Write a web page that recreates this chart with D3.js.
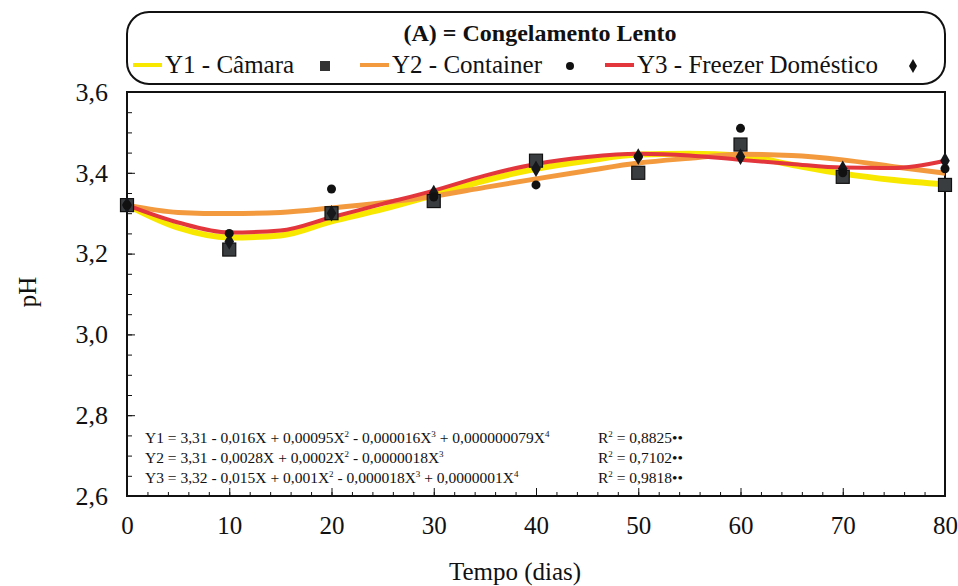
<!DOCTYPE html>
<html>
<head>
<meta charset="utf-8">
<script src="https://d3js.org/d3.v7.min.js"></script>
<style>
  body { margin: 0; background: #fff; }
  svg text { font-family: "Liberation Serif", "DejaVu Serif", serif; }
  .axis text { font-size: 25px; fill: #111; font-family: "Liberation Serif", serif; }
  .axis.y text { font-size: 26px; }
  .axis path, .axis line { stroke: #111; }
</style>
</head>
<body>
<svg id="chart" width="958" height="586"></svg>
<script>
// sampling days
var days = [0, 10, 20, 30, 40, 50, 60, 70, 80];
// observed pH
var camara    = [3.32, 3.21, 3.30, 3.33, 3.43, 3.40, 3.47, 3.39, 3.37];
var container = [3.32, 3.25, 3.36, 3.34, 3.37, 3.44, 3.51, 3.40, 3.41];
var freezer   = [3.32, 3.23, 3.30, 3.35, 3.41, 3.44, 3.44, 3.41, 3.43];

// fitted curves, every 5 days
var fitDays = [0, 5, 10, 15, 20, 25, 30, 35, 40, 45, 50, 55, 60, 65, 70, 75, 80];
var fitY1 = [3.32, 3.264, 3.240, 3.245, 3.280, 3.310, 3.345, 3.381, 3.410, 3.430, 3.445, 3.447, 3.443, 3.420, 3.398, 3.382, 3.371];
var fitY2 = [3.32, 3.302, 3.299, 3.302, 3.313, 3.326, 3.342, 3.364, 3.385, 3.405, 3.424, 3.436, 3.446, 3.443, 3.432, 3.415, 3.399];
var fitY3 = [3.32, 3.277, 3.252, 3.257, 3.290, 3.323, 3.356, 3.393, 3.422, 3.439, 3.447, 3.443, 3.432, 3.422, 3.413, 3.412, 3.430];

var yTicks = [2.6, 2.8, 3.0, 3.2, 3.4, 3.6];
var xTicks = [0, 10, 20, 30, 40, 50, 60, 70, 80];

var equations = [
  {lhs: "Y1 = 3,31 - 0,016X + 0,00095X", parts: [["2", " - 0,000016X"], ["3", " + 0,000000079X"], ["4", ""]], r2: "0,8825"},
  {lhs: "Y2 = 3,31 - 0,0028X + 0,0002X", parts: [["2", " - 0,0000018X"], ["3", ""]], r2: "0,7102"},
  {lhs: "Y3 = 3,32 - 0,015X + 0,001X", parts: [["2", " - 0,000018X"], ["3", " + 0,0000001X"], ["4", ""]], r2: "0,9818"}
];

var svg = d3.select("#chart");
var x = d3.scaleLinear().domain([0, 80]).range([127, 945]);
var y = d3.scaleLinear().domain([2.6, 3.6]).range([496, 92]);
var fmt = d => d3.format(".1f")(d).replace(".", ",");

// minor ticks
svg.append("g").attr("class", "axis")
  .attr("transform", "translate(0,496)")
  .call(d3.axisBottom(x).tickValues(d3.range(0, 81, 2)).tickSize(-4).tickFormat(""))
  .select(".domain").remove();
svg.append("g").attr("class", "axis")
  .attr("transform", "translate(127,0)")
  .call(d3.axisLeft(y).tickValues(d3.range(2.6, 3.601, 0.05)).tickSize(-5).tickFormat(""))
  .select(".domain").remove();

// major ticks + labels
svg.append("g").attr("class", "axis x")
  .attr("transform", "translate(0,496)")
  .call(d3.axisBottom(x).tickValues(xTicks).tickSize(-8).tickPadding(15).tickSizeOuter(0))
  .selectAll("text").attr("dy", "0.9em");
svg.append("g").attr("class", "axis y")
  .attr("transform", "translate(127,0)")
  .call(d3.axisLeft(y).tickValues(yTicks).tickFormat(fmt).tickSize(-8).tickPadding(19).tickSizeOuter(0));

// frame
svg.append("rect")
  .attr("x", x(0)).attr("y", y(3.6))
  .attr("width", x(80) - x(0)).attr("height", y(2.6) - y(3.6))
  .attr("fill", "none").attr("stroke", "#111").attr("stroke-width", 2);

// fitted lines
var line = d3.line().curve(d3.curveMonotoneX).x((d, i) => x(fitDays[i])).y(d => y(d));
var fits = [
  {vals: fitY1, color: "#f8e800", w: 6},
  {vals: fitY2, color: "#f39a3e", w: 5},
  {vals: fitY3, color: "#e2353c", w: 4}
];
svg.append("g").selectAll("path").data(fits).enter().append("path")
  .attr("d", d => line(d.vals))
  .attr("fill", "none")
  .attr("stroke", d => d.color)
  .attr("stroke-width", d => d.w);

// markers
var g = svg.append("g");
g.selectAll(".sq").data(camara).enter().append("rect")
  .attr("x", (d, i) => x(days[i]) - 6.5).attr("y", d => y(d) - 6.5)
  .attr("width", 13).attr("height", 13)
  .attr("fill", "#3a3d40").attr("stroke", "#111").attr("stroke-width", 1.2);
g.selectAll(".dm").data(freezer).enter().append("path")
  .attr("d", d3.symbol(d3.symbolDiamond, 80))
  .attr("transform", (d, i) => `translate(${x(days[i])},${y(d)})`)
  .attr("fill", "#15171a");
g.selectAll(".ci").data(container).enter().append("circle")
  .attr("cx", (d, i) => x(days[i])).attr("cy", d => y(d)).attr("r", 4.5)
  .attr("fill", "#111");

// axis titles
svg.append("text").attr("x", 515).attr("y", 580).attr("text-anchor", "middle")
  .attr("font-size", 25).attr("fill", "#111").text("Tempo (dias)");
svg.append("text").attr("transform", "translate(36,292) rotate(-90)").attr("text-anchor", "middle")
  .attr("font-size", 25).attr("fill", "#111").text("pH");

// equations
var eq = svg.append("g").attr("font-size", 15.5).attr("fill", "#111");
equations.forEach((e, i) => {
  var t = eq.append("text").attr("x", 145).attr("y", 443 + i * 20);
  t.append("tspan").text(e.lhs);
  e.parts.forEach(p => {
    t.append("tspan").attr("font-size", 9).attr("dy", -6).text(p[0]);
    t.append("tspan").attr("dy", 6).text(p[1]);
  });
  var r = eq.append("text").attr("x", 598).attr("y", 443 + i * 20);
  r.append("tspan").text("R");
  r.append("tspan").attr("font-size", 9).attr("dy", -6).text("2");
  r.append("tspan").attr("dy", 6).text(" = " + e.r2 + "\u2022\u2022");
});

// legend box
svg.append("rect").attr("x", 127).attr("y", 12).attr("width", 818).attr("height", 72)
  .attr("rx", 22).attr("fill", "#fff").attr("stroke", "#111").attr("stroke-width", 2);
svg.append("text").attr("x", 540).attr("y", 41).attr("text-anchor", "middle")
  .attr("font-size", 24).attr("font-weight", "bold").attr("fill", "#111")
  .text("(A) = Congelamento Lento");

var legend = [
  {label: "Y1 - Câmara", color: "#f8e800", x: 133, mx: 325, sym: "sq"},
  {label: "Y2 - Container", color: "#f39a3e", x: 360, mx: 570, sym: "ci"},
  {label: "Y3 - Freezer Doméstico", color: "#e2353c", x: 605, mx: 913, sym: "dm"}
];
var lg = svg.append("g");
legend.forEach(l => {
  lg.append("line").attr("x1", l.x).attr("x2", l.x + 29).attr("y1", 65).attr("y2", 65)
    .attr("stroke", l.color).attr("stroke-width", 4);
  lg.append("text").attr("x", l.x + 32).attr("y", 73).attr("font-size", 25).attr("fill", "#111").text(l.label);
  if (l.sym === "sq") lg.append("rect").attr("x", l.mx - 5).attr("y", 61).attr("width", 10).attr("height", 10).attr("fill", "#333");
  if (l.sym === "ci") lg.append("circle").attr("cx", l.mx).attr("cy", 66).attr("r", 4).attr("fill", "#111");
  if (l.sym === "dm") lg.append("path").attr("d", d3.symbol(d3.symbolDiamond, 55)).attr("transform", `translate(${l.mx},66)`).attr("fill", "#111");
});
</script>
</body>
</html>
